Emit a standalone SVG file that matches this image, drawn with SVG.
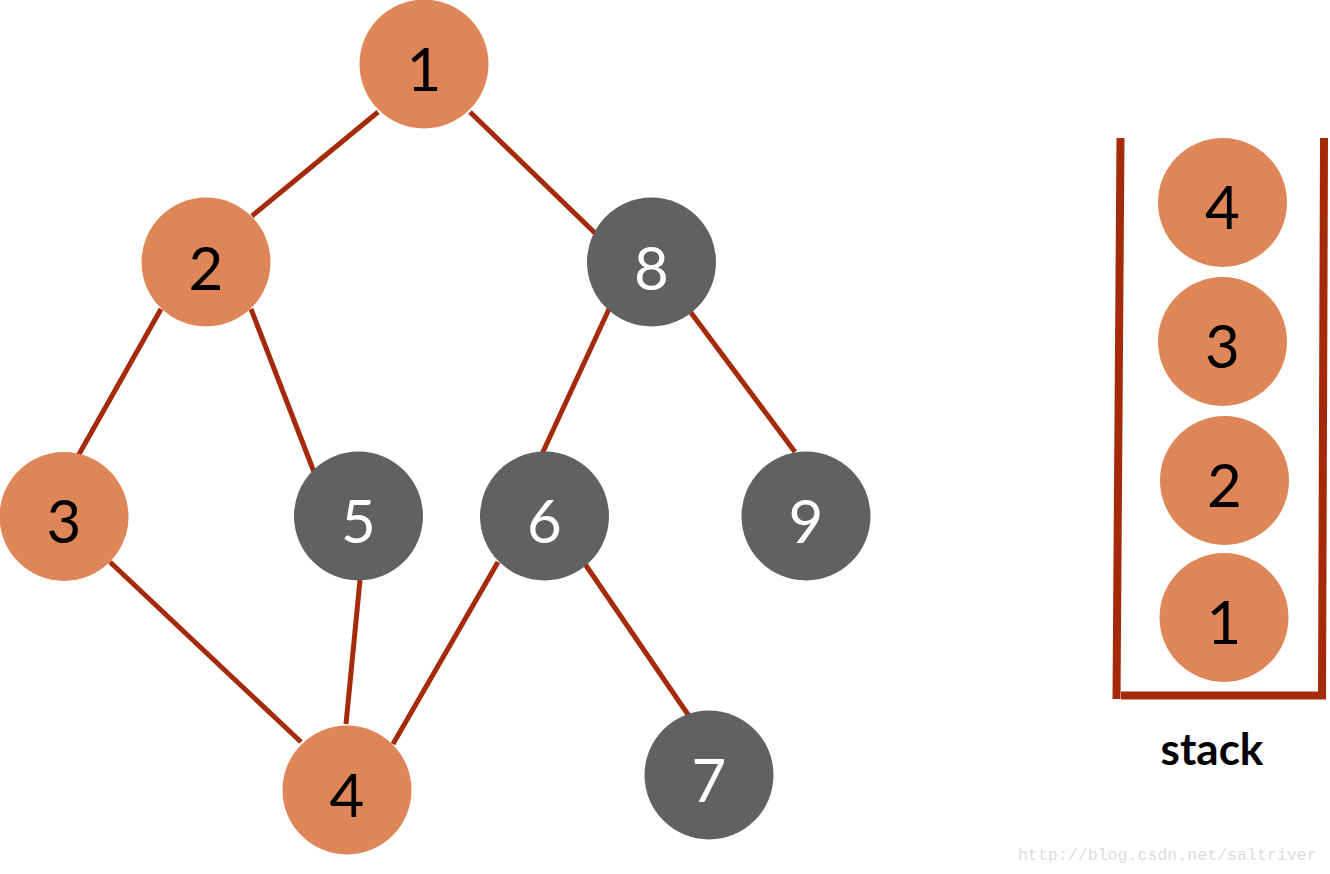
<svg xmlns="http://www.w3.org/2000/svg" width="1330" height="874" viewBox="0 0 1330 874">
<style>
.edge{stroke:#A52A0A;stroke-width:5;fill:none}
.wall{stroke:#A52A0A;stroke-width:8;fill:none}
.o{fill:#DF8659}
.g{fill:#616161}
.t{font-family:Lato,"Liberation Sans",sans-serif;font-size:60px;text-anchor:middle}
.to{fill:#000}
.tg{fill:#fff}
</style>
<rect width="1330" height="874" fill="#fff"/>
<g id="connectors">
<line class="edge" x1="378" y1="112" x2="252" y2="216"/>
<line class="edge" x1="470" y1="112" x2="596" y2="234"/>
<line class="edge" x1="161" y1="309" x2="78" y2="456"/>
<line class="edge" x1="251" y1="309" x2="314" y2="472"/>
<line class="edge" x1="609" y1="309" x2="542" y2="454"/>
<line class="edge" x1="689" y1="310" x2="795" y2="452"/>
<line class="edge" x1="110" y1="562" x2="301" y2="742"/>
<line class="edge" x1="360" y1="580" x2="346" y2="724"/>
<line class="edge" x1="498" y1="562" x2="393" y2="744"/>
<line class="edge" x1="585" y1="564" x2="689" y2="716"/>
</g>
<g id="n1"><circle class="o" cx="424" cy="64" r="64.5"/><text class="t to" x="424" y="91">1</text></g>
<g id="n2"><circle class="o" cx="206" cy="262" r="64.5"/><text class="t to" x="206" y="290">2</text></g>
<g id="n8"><circle class="g" cx="651.5" cy="262" r="64.5"/><text class="t tg" x="651.5" y="290">8</text></g>
<g id="n3"><circle class="o" cx="64" cy="516.5" r="64.5"/><text class="t to" x="64" y="543">3</text></g>
<g id="n5"><circle class="g" cx="358.5" cy="516" r="64.5"/><text class="t tg" x="358.5" y="543">5</text></g>
<g id="n6"><circle class="g" cx="544.5" cy="516" r="64.5"/><text class="t tg" x="544.5" y="543">6</text></g>
<g id="n9"><circle class="g" cx="806" cy="516" r="64.5"/><text class="t tg" x="806" y="543">9</text></g>
<g id="n4"><circle class="o" cx="347" cy="790" r="64.5"/><text class="t to" x="347" y="817">4</text></g>
<g id="n7"><circle class="g" cx="709" cy="775" r="64.5"/><text class="t tg" x="709" y="802">7</text></g>
<g id="stack">
<path class="wall" d="M1120.5,138 L1116.5,699"/>
<path class="wall" d="M1324,138 L1322,699"/>
<line class="wall" x1="1121" y1="695.5" x2="1326" y2="695.5"/>
</g>
<g id="s4"><circle class="o" cx="1222.5" cy="202.5" r="64.5"/><text class="t to" x="1222.5" y="229">4</text></g>
<g id="s3"><circle class="o" cx="1222.5" cy="341.5" r="64.5"/><text class="t to" x="1222.5" y="368">3</text></g>
<g id="s2"><circle class="o" cx="1224.5" cy="480.5" r="64.5"/><text class="t to" x="1224.5" y="507">2</text></g>
<g id="s1"><circle class="o" cx="1224" cy="617.5" r="64.5"/><text class="t to" x="1224" y="644">1</text></g>
<text x="1212" y="765" font-family="Lato,'Liberation Sans',sans-serif" font-weight="bold" font-size="44" text-anchor="middle" fill="#000">stack</text>
<text x="1018" y="860" font-family="'Liberation Mono',monospace" font-size="16.6" fill="#dcdcdc">http://blog.csdn.net/saltriver</text>
</svg>
